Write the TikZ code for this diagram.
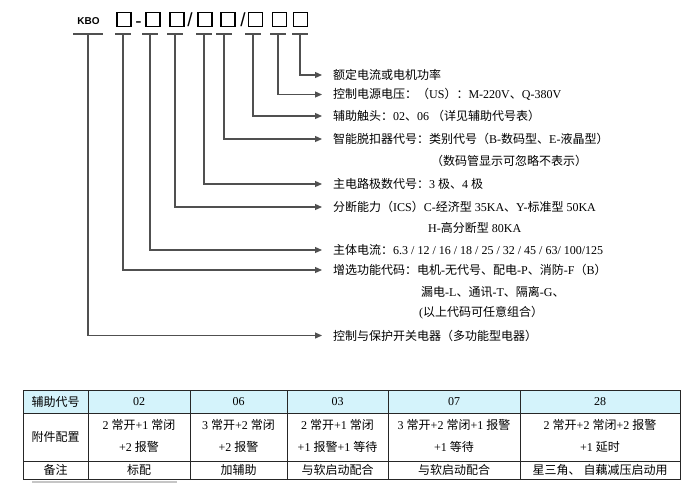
\documentclass[tikz,border=0pt]{standalone}
\usepackage{fontspec}
\setmainfont{Liberation Serif}
\newfontfamily\cjkfont{Noto Sans CJK SC}
\newfontfamily\sansfont{Liberation Sans}
\usetikzlibrary{arrows.meta}
\XeTeXinterchartokenstate=1
\newXeTeXintercharclass\CJKcls
\newcount\cjkc
\cjkc="3000 \loop\XeTeXcharclass\cjkc=\CJKcls \ifnum\cjkc<"303F \advance\cjkc by 1 \repeat
\cjkc="4E00 \loop\XeTeXcharclass\cjkc=\CJKcls \ifnum\cjkc<"9FFF \advance\cjkc by 1 \repeat
\cjkc="FF00 \loop\XeTeXcharclass\cjkc=\CJKcls \ifnum\cjkc<"FFEF \advance\cjkc by 1 \repeat
\XeTeXinterchartoks 0 \CJKcls = {\begingroup\cjkfont}
\XeTeXinterchartoks 4095 \CJKcls = {\begingroup\cjkfont}
\XeTeXinterchartoks \CJKcls 0 = {\endgroup}
\XeTeXinterchartoks \CJKcls 4095 = {\endgroup}
\definecolor{hdrfill}{RGB}{212,243,251}
\definecolor{lnc}{RGB}{80,80,80}
\begin{document}
\begin{tikzpicture}[x=1pt,y=-1pt,
  sq/.style={draw=black, line width=1.6pt, minimum width=14pt, minimum height=14pt, inner sep=0pt},
  sepchar/.style={inner sep=0pt, anchor=base, font=\sansfont\fontsize{19}{19}\selectfont},
  conn/.style={draw=lnc, line width=1.2pt},
  arr/.style={conn, -{Triangle[length=7pt,width=6pt]}, shorten >=11pt},
  txt/.style={anchor=west, inner sep=0pt, font=\fontsize{12}{14}\selectfont},
  cell/.style={inner sep=0pt, font=\fontsize{12}{14}\selectfont},
  grid/.style={draw=black!85, line width=0.9pt}]
\useasboundingbox (0,0) rectangle (700,483);
\fill[white] (0,0) rectangle (700,483);
% header code
\node[inner sep=0pt, font=\sansfont\bfseries\fontsize{10}{12}\selectfont] (kbo) at (88.5,21.5) {KBO};
\node[sq] (b1) at (124,19.5) {};
\node[sepchar] (d1) at (138.5,27.5) {-};
\node[sq] (b2) at (153,19.5) {};
\node[sq] (b3) at (177,19.5) {};
\node[sepchar] (s1) at (190,26.5) {/};
\node[sq] (b4) at (205,19.5) {};
\node[sq] (b5) at (228,19.5) {};
\node[sepchar] (s2) at (243,26.5) {/};
\node[sq] (b6) at (255.5,19.5) {};
\node[sq] (b7) at (279.5,19.5) {};
\node[sq] (b8) at (300.5,19.5) {};
% tick coordinates
\coordinate (k0) at (88,34);
\coordinate (k1) at (123,34);
\coordinate (k2) at (150,34);
\coordinate (k3) at (175,34);
\coordinate (k4) at (204,34);
\coordinate (k5) at (224,34);
\coordinate (k6) at (253,34);
\coordinate (k7) at (278,34);
\coordinate (k8) at (300,34);
\draw[conn] ([xshift=-15pt]k0) -- ([xshift=15pt]k0);
\foreach \k in {k1,k2,k3,k4,k5,k6,k7,k8}{
  \draw[conn] ([xshift=-8pt]\k) -- ([xshift=8pt]\k);
}
% texts
\node[txt] (t1) at (333,75) {额定电流或电机功率};
\node[txt] (t2) at (333,94.5) {控制电源电压：（US）：M-220V、Q-380V};
\node[txt] (t3) at (333,116) {辅助触头：02、06 （详见辅助代号表）};
\node[txt] (t4) at (333,139) {智能脱扣器代号：类别代号（B-数码型、E-液晶型）};
\node[txt] (t5) at (431,160.5) {（数码管显示可忽略不表示）};
\node[txt] (t6) at (333,184) {主电路极数代号：3 极、4 极};
\node[txt] (t7) at (333,207) {分断能力（ICS）C-经济型 35KA、Y-标准型 50KA};
\node[txt] (t8) at (428,228) {H-高分断型 80KA};
\node[txt] (t9) at (333,250) {主体电流：6.3 / 12 / 16 / 18 / 25 / 32 / 45 / 63/ 100/125};
\node[txt] (t10) at (333,270) {增选功能代码：电机-无代号、配电-P、消防-F（B）};
\node[txt] (t11) at (421,292) {漏电-L、通讯-T、隔离-G、};
\node[txt] (t12) at (419,313) {(以上代码可任意组合）};
\node[txt] (t13) at (333,335.5) {控制与保护开关电器（多功能型电器）};
% connectors
\draw[arr] (k8) |- (t1.west);
\draw[arr] (k7) |- (t2.west);
\draw[arr] (k6) |- (t3.west);
\draw[arr] (k5) |- (t4.west);
\draw[arr] (k4) |- (t6.west);
\draw[arr] (k3) |- (t7.west);
\draw[arr] (k2) |- (t9.west);
\draw[arr] (k1) |- (t10.west);
\draw[arr] (k0) |- (t13.west);
% table
\fill[hdrfill] (23,390) rectangle (680,413);
\draw[grid] (23,390) rectangle (680,479);
\draw[grid] (23,413) -- (680,413);
\draw[grid] (23,461) -- (680,461);
\foreach \xx in {88,190,287,388,520}{
  \draw[grid] (\xx,390) -- (\xx,479);
}
\node[cell] (c11) at (55.5,401.5) {辅助代号};
\node[cell] (c12) at (139,401.5) {02};
\node[cell] (c13) at (238.5,401.5) {06};
\node[cell] (c14) at (337.5,401.5) {03};
\node[cell] (c15) at (454,401.5) {07};
\node[cell] (c16) at (600,401.5) {28};
\node[cell] (c21) at (55.5,437) {附件配置};
\node[cell] (c22a) at (139,425) {2 常开+1 常闭};
\node[cell] (c22b) at (139,447) {+2 报警};
\node[cell] (c23a) at (238.5,425) {3 常开+2 常闭};
\node[cell] (c23b) at (238.5,447) {+2 报警};
\node[cell] (c24a) at (337.5,425) {2 常开+1 常闭};
\node[cell] (c24b) at (337.5,447) {+1 报警+1 等待};
\node[cell] (c25a) at (454,425) {3 常开+2 常闭+1 报警};
\node[cell] (c25b) at (454,447) {+1 等待};
\node[cell] (c26a) at (600,425) {2 常开+2 常闭+2 报警};
\node[cell] (c26b) at (600,447) {+1 延时};
\node[cell] (c31) at (55.5,470) {备注};
\node[cell] (c32) at (139,470) {标配};
\node[cell] (c33) at (238.5,470) {加辅助};
\node[cell] (c34) at (337.5,470) {与软启动配合};
\node[cell] (c35) at (454,470) {与软启动配合};
\node[cell] (c36) at (600,470) {星三角、 自藕减压启动用};
\fill[gray!45] (32,481) rectangle (177,483);
\end{tikzpicture}
\end{document}
